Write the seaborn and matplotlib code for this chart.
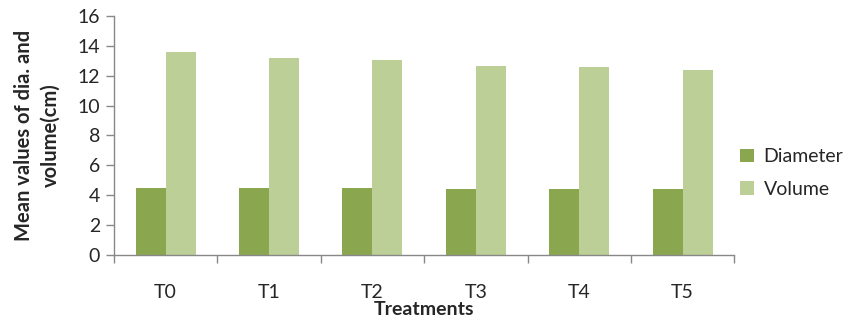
import matplotlib
matplotlib.use("Agg")
import matplotlib.pyplot as plt
import seaborn as sns
import pandas as pd
import numpy as np

treatments = ["T0", "T1", "T2", "T3", "T4", "T5"]
diameter = [4.50, 4.46, 4.46, 4.40, 4.40, 4.40]
volume = [13.57, 13.17, 13.05, 12.65, 12.56, 12.36]
series_names = ["Diameter", "Volume"]
colors = ["#8AA64F", "#BBCF97"]

df = pd.DataFrame({
    "Treatment": treatments * 2,
    "Value": diameter + volume,
    "Series": [series_names[0]] * len(treatments) + [series_names[1]] * len(treatments),
})

sns.set_theme(style="white")
plt.rcParams["font.family"] = ["Lato", "DejaVu Sans"]

fig = plt.figure(figsize=(8.44, 3.26), dpi=100)
ax = fig.add_axes([0.135, 0.218, 0.735, 0.733])

sns.barplot(data=df, x="Treatment", y="Value", hue="Series", palette=colors,
            width=0.58, ax=ax, saturation=1, edgecolor="none")

ax.set_ylim(0, 16)
ax.set_yticks(range(0, 17, 2))
ax.set_xlim(-0.5, 5.5)
ax.tick_params(axis="y", labelsize=14, length=6, width=1, color="#888888", direction="out", pad=4, left=True)
ax.tick_params(axis="x", which="major", labelsize=14, length=0, pad=21)
ax.set_xticks(np.arange(-0.5, 6, 1), minor=True)
ax.tick_params(axis="x", which="minor", length=6, width=1, color="#888888", direction="out", bottom=True)

for s in ["top", "right"]:
    ax.spines[s].set_visible(False)
for s in ["left", "bottom"]:
    ax.spines[s].set_color("#888888")
    ax.spines[s].set_linewidth(1)

ax.set_xlabel("Treatments", fontsize=14, fontweight="bold", labelpad=0)
ax.set_ylabel("Mean values of dia. and\nvolume(cm)", fontsize=14.5, fontweight="bold",
              labelpad=12, linespacing=1.45)

leg = ax.legend(loc="center left", bbox_to_anchor=(1.0, 0.343), frameon=False, fontsize=14,
                handlelength=0.7, handleheight=0.7, handletextpad=0.5, labelspacing=0.8,
                borderaxespad=0.3, borderpad=0)

fig.savefig("out.png", dpi=100)
